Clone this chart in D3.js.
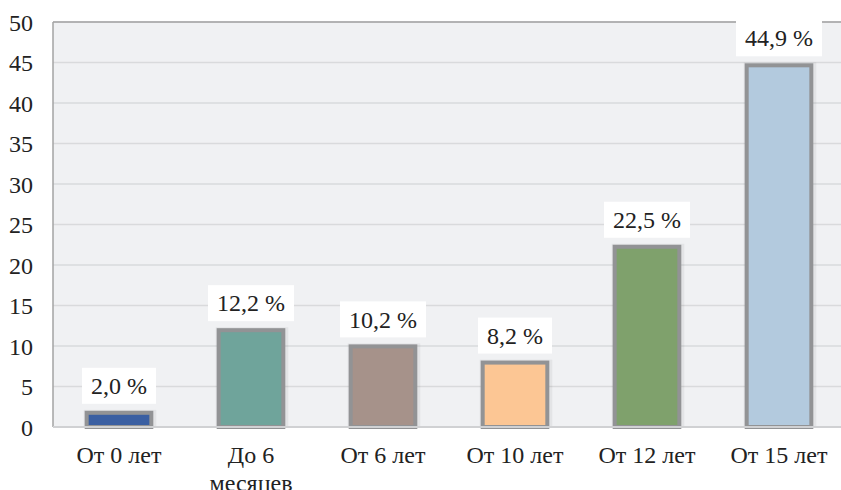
<!DOCTYPE html>
<html>
<head>
<meta charset="utf-8">
<script src="https://cdn.jsdelivr.net/npm/d3@7"></script>
<style>
body { margin: 0; background: #fff; }
</style>
</head>
<body>
<script>
// chart values
var categories = ["От 0 лет", "До 6\nмесяцев", "От 6 лет", "От 10 лет", "От 12 лет", "От 15 лет"];
var values = [2.0, 12.2, 10.2, 8.2, 22.5, 44.9];
var colors = ["#3a5fa2", "#6fa49b", "#a6928a", "#fcc694", "#7fa16c", "#b3cade"];
var yTicks = [0, 5, 10, 15, 20, 25, 30, 35, 40, 45, 50];

var FONT = "Liberation Serif", FS = 24;
var W = 841, H = 490,
	m = {left: 53, top: 22, right: -4, bottom: 63};

var svg = d3.select("body").append("svg").attr("width", W).attr("height", H);

var x = d3.scaleBand().domain(d3.range(categories.length))
	.range([m.left, W - m.right]).paddingInner(0.48).paddingOuter(0.24);
var y = d3.scaleLinear().domain([0, 50]).range([H - m.bottom, m.top]);

// plot background
svg.append("rect").attr("x", m.left).attr("y", m.top)
	.attr("width", W - m.right - m.left).attr("height", y(0) - m.top)
	.attr("fill", "#f0f1f3");

// grid
svg.append("g").selectAll("line").data(yTicks.slice(1)).enter().append("line")
	.attr("x1", m.left).attr("x2", W)
	.attr("y1", function(d) { return y(d); }).attr("y2", function(d) { return y(d); })
	.attr("stroke", "#d9dadc").attr("stroke-width", 1.5);

// border lines
svg.append("line").attr("x1", m.left).attr("x2", W).attr("y1", y(50)).attr("y2", y(50))
	.attr("stroke", "#a3a3a3").attr("stroke-width", 1.5);
svg.append("line").attr("x1", m.left).attr("x2", m.left).attr("y1", y(50)).attr("y2", y(0))
	.attr("stroke", "#a3a3a3").attr("stroke-width", 1.5);

// y axis
var yAxis = svg.append("g").attr("transform", "translate(" + (m.left - 20) + ",0)")
	.call(d3.axisLeft(y).tickValues(yTicks).tickSize(0).tickPadding(0));
yAxis.attr("font-family", FONT).attr("font-size", FS);
yAxis.select(".domain").remove();
yAxis.selectAll("text").attr("fill", "#222").attr("dy", "0.34em");

// bars (shadow + bar)
var bw = x.bandwidth();
var g = svg.append("g");
g.selectAll(".shadow").data(values).enter().append("rect")
	.attr("x", function(d, i) { return x(i) - 1; })
	.attr("y", function(d) { return y(d) - 1; })
	.attr("width", bw + 4).attr("height", function(d) { return y(0) - y(d) + 1; })
	.attr("fill", "#000").attr("opacity", 0.05);
g.selectAll(".bar").data(values).enter().append("rect")
	.attr("x", function(d, i) { return x(i) + 2; })
	.attr("y", function(d) { return y(d) + 2; })
	.attr("width", bw - 4).attr("height", function(d) { return y(0) - y(d) - 2; })
	.attr("fill", function(d, i) { return colors[i]; })
	.attr("stroke", "#929395").attr("stroke-width", 4);

// bottom axis line
svg.append("line").attr("x1", m.left).attr("x2", W).attr("y1", y(0)).attr("y2", y(0))
	.attr("stroke", "#d0d1d3").attr("stroke-width", 2);

// value labels, white box sized to the text
var lab = svg.append("g").selectAll("g").data(values).enter().append("g")
	.attr("transform", function(d, i) { return "translate(" + (x(i) + bw / 2) + "," + (y(d) - 25) + ")"; });
var box = lab.append("rect").attr("y", -18).attr("height", 36).attr("fill", "#fff");
var txt = lab.append("text").attr("text-anchor", "middle").attr("dy", "0.34em")
	.attr("font-family", FONT).attr("font-size", FS).attr("fill", "#222")
	.text(function(d) { return d.toFixed(1).replace(".", ",") + " %"; });
txt.each(function(d, i) {
	var w = this.getComputedTextLength() + 18;
	d3.select(box.nodes()[i]).attr("x", -w / 2).attr("width", w);
});

// category labels
var cat = svg.append("g").selectAll("text").data(categories).enter().append("text")
	.attr("text-anchor", "middle").attr("font-family", FONT).attr("font-size", FS).attr("fill", "#222")
	.attr("x", function(d, i) { return x(i) + bw / 2; })
	.attr("y", y(0) + 36);
cat.each(function(d) {
	var t = d3.select(this);
	d.split("\n").forEach(function(s, k) {
		t.append("tspan").attr("x", t.attr("x")).attr("dy", k ? 28 : 0).text(s);
	});
});
</script>
</body>
</html>
